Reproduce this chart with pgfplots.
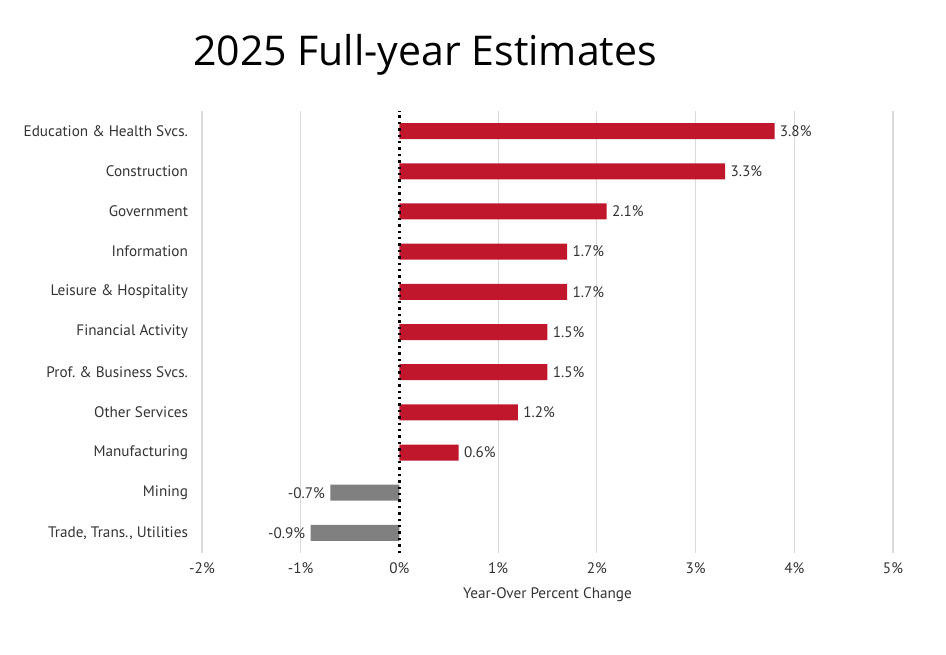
\documentclass[border=0pt]{standalone}
\usepackage{pgfplots}
\pgfplotsset{compat=1.18}
\usepackage{fontspec}
\setmainfont{PT Sans}
\newfontfamily\titlefont{Open Sans}
\definecolor{barred}{HTML}{C0172D}
\definecolor{bargray}{HTML}{808080}
\definecolor{gridgray}{HTML}{DADADA}
\definecolor{labelgray}{HTML}{333333}
\begin{document}
\begin{tikzpicture}
\path[use as bounding box] (-101pt,-50.5pt) rectangle (372pt,276.5pt);
\begin{axis}[
  at={(0,0)}, anchor=south west,
  scale only axis,
  width=345.5pt, height=221pt,
  xmin=-2, xmax=5,
  ymin=-0.5, ymax=10.5,
  axis line style={draw=none},
  major tick length=0pt,
  xtick={-2,-1,1,2,3,4,5},
  extra x ticks={0},
  extra x tick style={grid=none},
  xticklabel={\pgfmathprintnumber{\tick}\%},
  extra x tick labels={0\%},
  xmajorgrids,
  grid style={gridgray, line width=0.6pt},
  ytick={0,...,10},
  yticklabels={{Trade, Trans., Utilities},Mining,Manufacturing,Other Services,Prof.\ \& Business Svcs.,Financial Activity,Leisure \& Hospitality,Information,Government,Construction,Education \& Health Svcs.},
  ticklabel style={font=\fontsize{7.6}{9}\selectfont, text=labelgray},
  yticklabel style={xshift=-3.5pt},
  xticklabel style={yshift=-1.5pt},
  xlabel={Year-Over Percent Change},
  xlabel style={font=\fontsize{7.6}{9}\selectfont, text=labelgray, yshift=0pt},
  /pgf/number format/assume math mode=true,
]
\addplot[xbar, bar width=8pt, bar shift=0pt, fill=barred, draw=none,
  nodes near coords={\pgfmathprintnumber[fixed,precision=1,fixed zerofill]{\pgfplotspointmeta}\%},
  nodes near coords align=horizontal,
  every node near coord/.append style={font=\fontsize{7.6}{9}\selectfont, text=labelgray, inner sep=2.5pt}]
  coordinates {(0.6,2) (1.2,3) (1.5,4) (1.5,5) (1.7,6) (1.7,7) (2.1,8) (3.3,9) (3.8,10)};
\addplot[xbar, bar width=8pt, bar shift=0pt, fill=bargray, draw=none,
  nodes near coords={\pgfmathprintnumber[fixed,precision=1,fixed zerofill]{\pgfplotspointmeta}\%},
  nodes near coords align=horizontal,
  every node near coord/.append style={font=\fontsize{7.6}{9}\selectfont, text=labelgray, inner sep=2.5pt}]
  coordinates {(-0.9,0) (-0.7,1)};
\addplot[black, dotted, line width=1.2pt] coordinates {(0,-0.5) (0,10.5)};
\end{axis}
\node[font=\titlefont\fontsize{20.5}{24}\selectfont, anchor=center] at (111.5pt,249pt) {2025 Full-year Estimates};
\end{tikzpicture}
\end{document}
